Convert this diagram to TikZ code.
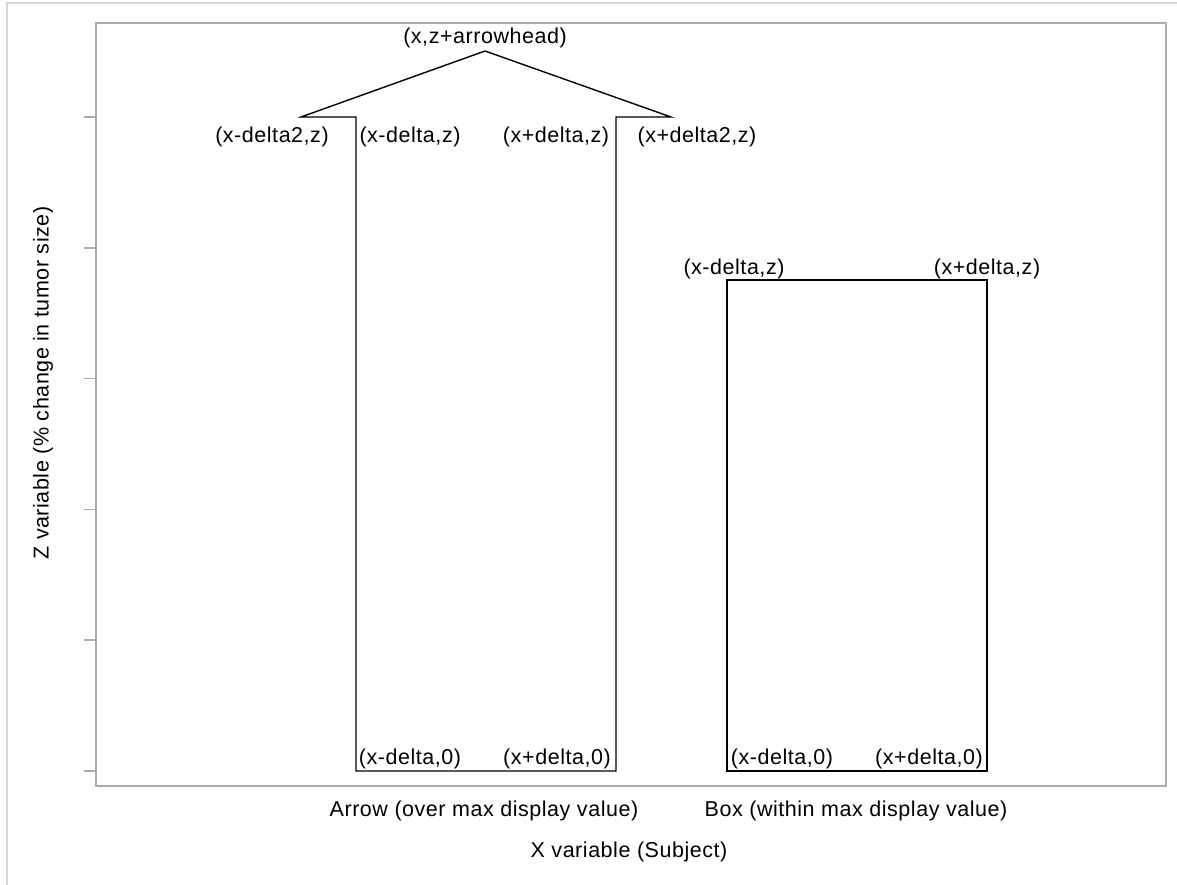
\documentclass[tikz,border=0pt]{standalone}
\usepackage{fontspec}
\setmainfont{Liberation Sans}[LetterSpace=2.5]
\begin{document}
\begin{tikzpicture}[x=1pt,y=-1pt,
  lbl/.style={inner sep=0pt,font=\fontsize{21.5}{24}\selectfont},
  shapeline/.style={draw=black,line width=1.4pt,line join=miter},
  framec/.style={draw=framegray,line width=1.5pt},
  outerc/.style={draw=outergray,line width=1.5pt}]
\definecolor{framegray}{HTML}{A8ACB0}
\definecolor{outergray}{HTML}{D8D8D8}
\useasboundingbox (0,0) rectangle (1177,885);
% outer frame (top and left only)
\draw[outerc] (7,885) -- (7,3) -- (1177,3);
% plot frame
\draw[framec] (96,23) rectangle (1166,786);
% ticks
\foreach \t in {117,247.8,378.6,509.4,640.2,771}{
  \draw[framec] (84,\t) -- (96,\t);
}
% arrow shape
\coordinate (a0l) at (356,771);
\coordinate (a0r) at (616,771);
\coordinate (azl) at (356,117);
\coordinate (azr) at (616,117);
\coordinate (ad2l) at (301,117);
\coordinate (ad2r) at (671,117);
\coordinate (apex) at (485,51);
\draw[shapeline] (a0l) -- (azl) -- (ad2l) -- (apex) -- (ad2r) -- (azr) -- (a0r) -- cycle;
% box shape
\coordinate (b0l) at (727,771);
\coordinate (b0r) at (987,771);
\coordinate (bzl) at (727,280);
\coordinate (bzr) at (987,280);
\draw[shapeline] (b0l) -- (bzl) -- (bzr) -- (b0r) -- cycle;
% labels
\node[lbl] (lapex) at (485,38) {(x,z+arrowhead)};
\node[lbl] (ld2l) at (272,137) {(x-delta2,z)};
\node[lbl] (ldl) at (410,137) {(x-delta,z)};
\node[lbl] (ldr) at (556,137) {(x+delta,z)};
\node[lbl] (ld2r) at (697,137) {(x+delta2,z)};
\node[lbl] (lbzl) at (734,269) {(x-delta,z)};
\node[lbl] (lbzr) at (987,269) {(x+delta,z)};
\node[lbl] (la0l) at (410,759) {(x-delta,0)};
\node[lbl] (la0r) at (557,759) {(x+delta,0)};
\node[lbl] (lb0l) at (782,759) {(x-delta,0)};
\node[lbl] (lb0r) at (929,759) {(x+delta,0)};
\node[lbl] (catA) at (484,811) {Arrow (over max display value)};
\node[lbl] (catB) at (856,811) {Box (within max display value)};
\node[lbl] (xlab) at (629,852) {X variable (Subject)};
\node[lbl,rotate=90] (zlab) at (43,383) {Z variable (\% change in tumor size)};
\end{tikzpicture}
\end{document}
